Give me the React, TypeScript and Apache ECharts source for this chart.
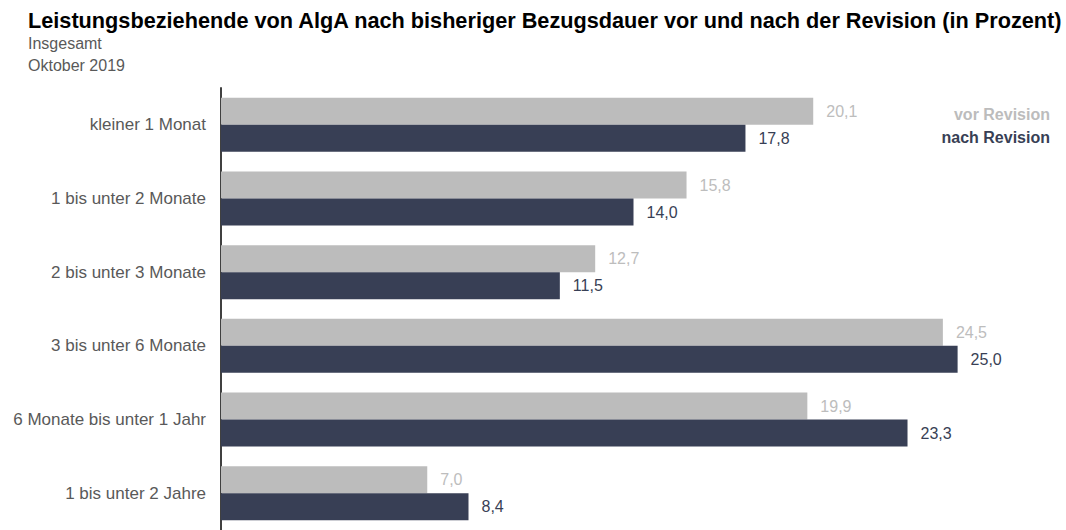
import React, { useEffect, useRef } from "react";
import * as echarts from "echarts";

const categories = [
  "kleiner 1 Monat",
  "1 bis unter 2 Monate",
  "2 bis unter 3 Monate",
  "3 bis unter 6 Monate",
  "6 Monate bis unter 1 Jahr",
  "1 bis unter 2 Jahre",
];
const vorRevision = [20.1, 15.8, 12.7, 24.5, 19.9, 7.0];
const nachRevision = [17.8, 14.0, 11.5, 25.0, 23.3, 8.4];

const GRAY = "#bcbcbc";
const DARK = "#383f55";
const FONT = "'Liberation Sans', Arial, sans-serif";

export default function App() {
  const ref = useRef<HTMLDivElement>(null);
  useEffect(() => {
    document.body.style.margin = "0";
    const chart = echarts.init(ref.current!, null, { renderer: "svg" });
    const fmt = (p: any) => Number(p.value).toFixed(1).replace(".", ",");
    chart.setOption({
      animation: false,
      textStyle: { fontFamily: FONT },
      title: {
        text: "Leistungsbeziehende von AlgA nach bisheriger Bezugsdauer vor und nach der Revision (in Prozent)",
        subtext: "Insgesamt\nOktober 2019",
        left: 23,
        top: 4,
        itemGap: 1,
        textStyle: { fontFamily: FONT, fontSize: 21.7, fontWeight: "bold", color: "#000" },
        subtextStyle: { fontFamily: FONT, fontSize: 16, color: "#595959", lineHeight: 22 },
      },
      legend: {
        orient: "vertical",
        right: 6,
        top: 101,
        align: "right",
        icon: "none",
        itemWidth: 0,
        itemGap: 7,
        selectedMode: false,
        textStyle: { fontFamily: FONT, fontSize: 16, fontWeight: "bold" },
        data: [
          { name: "vor Revision", textStyle: { color: GRAY } },
          { name: "nach Revision", textStyle: { color: DARK } },
        ],
      },
      grid: { left: 221, top: 88, height: 451, width: 825 },
      xAxis: {
        type: "value",
        min: 0,
        max: 28,
        show: false,
      },
      yAxis: {
        type: "category",
        data: categories,
        inverse: true,
        axisLine: { show: true, lineStyle: { color: "#404040", width: 2 } },
        axisTick: { show: false },
        axisLabel: { color: "#595959", fontSize: 17, margin: 15, fontFamily: FONT },
      },
      series: [
        {
          name: "vor Revision",
          type: "bar",
          data: vorRevision,
          barWidth: 27,
          barGap: "0%",
          itemStyle: { color: GRAY },
          label: {
            show: true,
            position: "right",
            distance: 13,
            color: "#bdbdbd",
            fontSize: 16,
            fontFamily: FONT,
            formatter: fmt,
          },
        },
        {
          name: "nach Revision",
          type: "bar",
          data: nachRevision,
          barWidth: 27,
          barGap: "0%",
          itemStyle: { color: DARK },
          label: {
            show: true,
            position: "right",
            distance: 13,
            color: DARK,
            fontSize: 16,
            fontFamily: FONT,
            formatter: fmt,
          },
        },
      ],
    });
    return () => chart.dispose();
  }, []);
  return <div ref={ref} style={{ width: 1066, height: 530 }} />;
}
